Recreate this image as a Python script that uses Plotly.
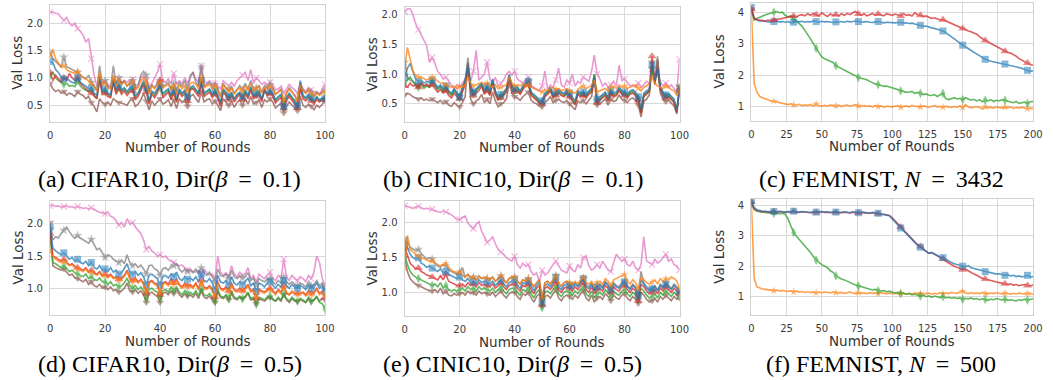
import plotly.graph_objects as go

rounds100 = list(range(0, 101))
rounds200 = list(range(0, 201, 2))

colors = {"blue": "#1f77b4", "orange": "#ff7f0e", "green": "#2ca02c", "red": "#d62728",
          "brown": "#8c564b", "pink": "#e377c2", "gray": "#7f7f7f"}
symbols = {"blue": "square", "orange": "star", "green": "diamond-tall", "red": "triangle-up",
           "brown": "triangle-down", "pink": "x-thin-open", "gray": "star"}

# ---------------- (a) CIFAR10, beta=0.1 ----------------
a_blue = [1.30,1.28,1.15,1.10,1.02,0.98,1.00,0.95,0.92,0.90,
          1.00,0.92,0.88,0.85,0.80,0.82,0.72,0.68,1.05,0.78,
          0.80,0.72,0.70,0.98,0.78,0.88,0.78,0.82,0.75,0.82,
          0.84,0.68,0.72,0.85,0.95,0.82,0.58,0.76,0.72,0.80,
          0.85,0.72,0.76,0.80,0.68,0.78,0.62,0.80,0.72,0.78,
          0.66,0.82,0.86,0.80,0.72,0.95,0.72,0.76,0.80,0.70,
          0.76,0.68,0.55,0.80,0.72,0.66,0.74,0.62,0.70,0.74,
          0.66,0.78,0.68,0.84,0.68,0.72,0.76,0.62,0.74,0.72,
          0.76,0.72,0.60,0.66,0.70,0.48,0.64,0.72,0.66,0.58,
          0.50,0.95,0.68,0.64,0.70,0.64,0.58,0.66,0.60,0.64,0.62]
a_orange = [1.40,1.52,1.35,1.28,1.20,1.22,1.15,1.12,1.10,1.08,
            1.12,1.05,1.00,0.98,0.95,0.90,0.85,0.75,1.10,0.88,
            0.90,0.82,0.80,1.05,0.85,0.95,0.88,0.92,0.85,0.90,
            0.92,0.78,0.82,0.95,1.00,0.90,0.70,0.85,0.80,0.88,
            0.92,0.82,0.85,0.88,0.78,0.86,0.72,0.88,0.80,0.86,
            0.76,0.90,0.92,0.88,0.80,1.02,0.82,0.85,0.88,0.80,
            0.85,0.78,0.65,0.88,0.80,0.76,0.82,0.70,0.78,0.82,
            0.75,0.86,0.76,0.90,0.76,0.80,0.84,0.72,0.82,0.80,
            0.84,0.80,0.70,0.74,0.78,0.58,0.72,0.80,0.74,0.68,
            0.60,0.88,0.76,0.72,0.78,0.72,0.66,0.72,0.68,0.72,0.74]
a_green = [1.05,1.10,1.00,0.95,0.92,0.88,0.90,0.85,0.86,0.84,
           0.95,0.85,0.80,0.78,0.75,0.78,0.68,0.62,1.00,0.74,
           0.76,0.70,0.66,0.95,0.74,0.84,0.74,0.80,0.72,0.78,
           0.80,0.64,0.70,0.82,0.92,0.78,0.55,0.74,0.68,0.76,
           0.82,0.68,0.74,0.78,0.64,0.76,0.58,0.78,0.70,0.76,
           0.62,0.80,0.82,0.78,0.70,0.92,0.70,0.74,0.78,0.68,
           0.74,0.66,0.52,0.78,0.70,0.64,0.72,0.60,0.68,0.72,
           0.64,0.76,0.66,0.82,0.66,0.70,0.74,0.60,0.78,0.70,
           0.74,0.70,0.58,0.64,0.68,0.46,0.62,0.70,0.64,0.56,
           0.48,0.85,0.66,0.62,0.68,0.62,0.56,0.64,0.58,0.62,0.64]
a_red = [1.10,0.95,1.05,0.98,0.92,1.00,0.95,1.08,1.00,0.95,
         1.00,0.90,0.85,0.80,0.75,0.72,0.66,0.62,0.95,0.70,
         0.72,0.66,0.64,0.92,0.70,0.80,0.70,0.76,0.68,0.74,
         0.76,0.60,0.66,0.78,0.88,0.74,0.52,0.70,0.64,0.72,
         0.95,0.64,0.70,0.74,0.60,0.72,0.55,0.74,0.66,0.72,
         0.58,0.78,0.80,0.74,0.66,0.88,0.66,0.70,0.74,0.64,
         0.70,0.62,0.48,0.74,0.66,0.60,0.68,0.56,0.64,0.70,
         0.60,0.72,0.62,0.78,0.62,0.66,0.70,0.56,0.82,0.66,
         0.72,0.66,0.54,0.60,0.64,0.44,0.58,0.66,0.60,0.52,
         0.45,0.80,0.62,0.58,0.64,0.58,0.52,0.60,0.56,0.60,0.60]
a_brown = [0.90,0.80,0.75,0.78,0.72,0.75,0.68,0.72,0.70,0.66,
           0.75,0.70,0.68,0.62,0.66,0.55,0.48,0.38,0.62,0.55,
           0.52,0.56,0.50,0.62,0.58,0.55,0.54,0.52,0.50,0.58,
           0.62,0.48,0.52,0.60,0.72,0.58,0.42,0.58,0.50,0.56,
           0.62,0.52,0.55,0.60,0.48,0.60,0.44,0.62,0.55,0.60,
           0.48,0.66,0.70,0.62,0.55,0.75,0.56,0.60,0.62,0.52,
           0.58,0.50,0.40,0.62,0.56,0.50,0.58,0.46,0.55,0.60,
           0.50,0.62,0.52,0.66,0.52,0.55,0.60,0.46,0.60,0.56,
           0.62,0.56,0.45,0.50,0.54,0.36,0.48,0.56,0.50,0.44,
           0.40,0.66,0.50,0.46,0.52,0.48,0.42,0.50,0.46,0.52,0.58]
a_pink = [2.20,2.20,2.18,2.17,2.10,2.05,2.10,2.00,1.95,2.00,
          1.90,1.85,1.78,1.65,1.72,1.35,1.05,0.85,0.95,0.90,
          0.92,0.88,0.85,1.00,0.88,0.98,0.90,0.95,0.92,0.96,
          0.98,0.85,0.88,1.00,1.05,0.95,0.80,0.90,1.00,1.10,
          1.25,0.95,0.92,0.98,0.90,1.08,0.88,0.95,0.90,1.00,
          0.90,1.00,1.10,0.98,0.92,1.22,0.95,0.90,0.95,0.88,
          0.90,0.85,0.80,0.95,0.90,0.85,0.92,0.85,0.95,1.00,
          1.05,1.10,0.95,1.15,0.90,1.00,0.95,0.88,0.92,0.85,
          0.92,0.88,0.78,0.80,0.85,0.72,0.80,0.88,0.82,0.78,
          0.72,0.90,0.80,0.75,0.82,0.78,0.72,0.75,0.70,0.78,0.88]
a_gray = [1.45,1.35,1.30,1.25,1.20,1.38,1.20,1.18,1.15,1.12,
          1.10,1.05,1.02,0.98,1.05,0.92,0.85,0.78,1.22,0.90,
          0.95,0.85,0.82,1.22,0.88,1.00,0.90,0.95,0.85,0.92,
          0.95,0.80,0.85,1.05,1.12,1.05,0.72,0.88,0.82,0.90,
          0.95,0.84,0.88,0.92,0.80,0.90,0.74,0.92,0.84,0.95,
          0.80,1.05,1.10,0.92,0.85,1.20,0.85,0.88,0.92,0.82,
          0.88,0.80,0.66,0.90,0.82,0.78,0.85,0.72,0.80,0.86,
          0.78,0.90,0.80,0.95,0.80,0.82,0.86,0.74,0.86,0.82,
          0.88,0.82,0.70,0.76,0.80,0.55,0.72,0.82,0.76,0.68,
          0.58,0.92,0.78,0.72,0.80,0.74,0.66,0.74,0.70,0.75,0.78]

# ---------------- (b) CINIC10, beta=0.1 ----------------
b_blue = [0.95,1.10,1.18,1.05,0.92,0.88,0.90,0.85,0.88,0.86,
          0.90,0.85,0.78,0.82,0.75,0.80,0.72,0.68,0.75,0.70,
          0.62,0.78,0.90,1.15,0.82,0.70,0.76,0.80,0.85,0.72,
          0.80,0.70,0.92,0.72,0.62,0.66,0.70,0.76,0.98,0.82,
          0.75,0.78,0.72,0.80,0.85,0.88,0.70,0.66,0.62,0.56,
          0.55,0.68,0.72,0.78,0.66,0.70,0.74,0.70,0.68,0.74,
          0.68,0.60,0.55,0.72,0.68,0.70,0.66,0.72,0.76,0.95,
          0.58,0.62,0.66,0.70,0.60,0.72,0.68,0.70,0.78,0.72,
          0.70,0.66,0.72,0.74,0.70,0.62,0.40,0.68,0.72,0.75,
          1.15,0.90,1.10,0.80,0.70,0.65,0.68,0.62,0.58,0.40,0.70]
b_orange = [1.10,1.45,1.25,1.05,0.98,0.95,0.95,0.92,0.90,0.92,
            0.95,0.92,0.88,0.85,0.85,0.82,0.80,0.78,0.80,0.76,
            0.80,0.78,0.82,0.95,0.85,0.80,0.82,0.84,0.86,0.82,
            0.85,0.80,0.78,0.82,0.76,0.78,0.80,0.82,0.95,0.85,
            0.80,0.82,0.80,0.84,0.80,0.82,0.78,0.76,0.74,0.72,
            0.70,0.74,0.72,0.76,0.78,0.74,0.76,0.72,0.74,0.76,
            0.72,0.70,0.68,0.74,0.78,0.80,0.76,0.78,0.82,0.90,
            0.70,0.72,0.74,0.76,0.72,0.78,0.80,0.76,0.82,0.78,
            0.80,0.76,0.78,0.80,0.82,0.76,0.72,0.78,0.80,0.85,
            0.95,0.85,0.80,0.78,0.76,0.80,0.78,0.74,0.72,0.65,0.72]
b_green = [0.85,0.90,0.95,0.88,0.80,0.78,0.82,0.76,0.80,0.78,
           0.86,0.80,0.74,0.78,0.70,0.76,0.68,0.64,0.72,0.66,
           0.60,0.74,0.86,1.10,0.78,0.66,0.72,0.76,0.82,0.68,
           0.76,0.66,0.88,0.68,0.58,0.62,0.66,0.72,0.95,0.78,
           0.72,0.74,0.68,0.76,0.82,0.84,0.66,0.62,0.58,0.52,
           0.52,0.64,0.68,0.74,0.62,0.66,0.70,0.66,0.64,0.70,
           0.64,0.56,0.50,0.68,0.64,0.66,0.62,0.68,0.72,1.00,
           0.55,0.58,0.62,0.66,0.56,0.68,0.64,0.66,0.74,0.68,
           0.66,0.62,0.68,0.70,0.66,0.58,0.36,0.64,0.68,0.70,
           1.08,0.86,1.05,0.76,0.66,0.62,0.64,0.58,0.54,0.38,0.75]
b_red = [0.80,0.78,0.85,0.80,0.82,0.78,0.85,0.80,0.82,0.78,
         0.82,0.76,0.70,0.74,0.68,0.72,0.64,0.60,0.68,0.62,
         0.58,0.70,0.82,1.10,0.74,0.64,0.68,0.72,0.80,0.66,
         0.72,0.64,0.84,0.66,0.56,0.60,0.64,0.70,0.92,0.76,
         0.70,0.72,0.66,0.74,0.80,0.82,0.64,0.60,0.56,0.50,
         0.50,0.62,0.66,0.72,0.60,0.64,0.68,0.64,0.62,0.68,
         0.62,0.54,0.48,0.66,0.62,0.64,0.60,0.66,0.70,0.95,
         0.52,0.56,0.60,0.64,0.54,0.66,0.62,0.64,0.72,0.66,
         0.64,0.60,0.66,0.68,0.64,0.56,0.34,0.62,0.66,0.72,
         1.30,0.88,1.10,0.74,0.64,0.60,0.62,0.56,0.52,0.36,0.72]
b_brown = [0.65,0.68,0.66,0.62,0.60,0.58,0.60,0.56,0.58,0.55,
           0.58,0.55,0.52,0.56,0.50,0.54,0.48,0.46,0.52,0.48,
           0.45,0.52,0.62,1.20,0.58,0.50,0.55,0.58,0.66,0.52,
           0.58,0.50,0.70,0.55,0.45,0.50,0.52,0.58,0.85,0.68,
           0.62,0.60,0.56,0.62,0.66,0.70,0.56,0.52,0.50,0.46,
           0.45,0.52,0.56,0.62,0.52,0.56,0.58,0.54,0.52,0.56,
           0.50,0.45,0.40,0.55,0.52,0.56,0.50,0.56,0.62,0.95,
           0.48,0.50,0.54,0.58,0.48,0.58,0.54,0.56,0.65,0.58,
           0.56,0.52,0.58,0.60,0.56,0.48,0.28,0.54,0.58,0.65,
           1.20,0.82,1.25,0.68,0.58,0.54,0.56,0.50,0.46,0.33,0.80]
b_pink = [2.05,2.10,2.10,2.00,1.85,1.75,1.65,1.55,1.48,1.20,
          1.28,1.18,1.05,1.00,0.92,0.95,0.88,0.80,0.75,0.82,
          0.78,0.85,0.92,1.00,0.88,1.05,1.40,0.90,0.95,1.00,
          1.20,0.92,0.85,0.95,0.80,0.85,0.90,1.00,1.05,0.98,
          1.05,0.92,0.88,0.85,0.90,0.95,0.80,0.78,0.75,0.72,
          0.80,1.05,0.75,0.82,0.78,0.90,1.10,0.82,0.78,0.90,
          0.85,1.00,0.80,0.88,0.85,0.95,0.92,0.88,1.05,1.32,
          1.00,0.92,0.80,0.85,0.78,0.82,0.88,0.80,1.15,0.90,
          0.92,0.85,0.80,0.82,0.78,0.85,0.78,0.82,0.88,0.85,
          1.00,0.90,1.05,0.88,0.80,0.85,0.78,0.82,0.75,0.70,1.25]
b_gray = [1.20,0.95,0.90,0.88,0.85,0.82,0.86,0.80,0.84,0.80,
          0.88,0.82,0.76,0.80,0.72,0.78,0.70,0.66,0.74,0.68,
          0.62,0.76,0.88,1.28,0.80,0.68,0.74,0.78,0.84,0.70,
          0.78,0.68,0.90,0.70,0.60,0.64,0.68,0.74,1.00,0.82,
          0.76,0.78,0.70,0.78,0.86,0.88,0.68,0.64,0.60,0.54,
          0.54,0.66,0.70,0.76,0.64,0.68,0.72,0.68,0.66,0.72,
          0.66,0.58,0.52,0.70,0.66,0.68,0.64,0.70,0.74,1.00,
          0.56,0.60,0.64,0.68,0.58,0.70,0.66,0.68,0.76,0.70,
          0.68,0.64,0.70,0.72,0.68,0.60,0.38,0.66,0.70,0.72,
          1.10,0.88,1.30,0.78,0.68,0.64,0.66,0.60,0.56,0.40,0.78]

# ---------------- (c) FEMNIST, N=3432 (every 2 rounds) ----------------
c_blue = [4.15,3.80,3.75,3.72,3.72,3.70,3.70,3.68,3.70,3.71,
          3.69,3.70,3.68,3.70,3.66,3.68,3.70,3.69,3.71,3.68,
          3.70,3.69,3.72,3.70,3.68,3.71,3.69,3.70,3.68,3.67,
          3.69,3.68,3.70,3.68,3.71,3.69,3.70,3.72,3.70,3.68,
          3.69,3.70,3.68,3.67,3.69,3.70,3.68,3.66,3.68,3.67,
          3.68,3.66,3.67,3.68,3.65,3.66,3.64,3.65,3.62,3.60,
          3.58,3.55,3.56,3.52,3.50,3.48,3.46,3.42,3.40,3.35,
          3.28,3.22,3.15,3.08,3.02,2.95,2.90,2.85,2.78,2.72,
          2.68,2.62,2.55,2.50,2.47,2.44,2.42,2.40,2.38,2.36,
          2.35,2.33,2.32,2.30,2.28,2.26,2.22,2.18,2.15,2.12,2.14]
c_orange = [4.10,1.75,1.45,1.32,1.28,1.24,1.22,1.18,1.17,1.15,
            1.12,1.10,1.08,1.06,1.09,1.05,1.04,1.07,1.03,1.05,
            1.04,1.06,1.02,1.08,1.03,1.01,1.04,1.02,1.05,1.03,
            1.02,1.04,1.00,1.03,1.05,1.01,1.03,1.06,1.02,1.00,
            1.03,1.01,1.02,0.99,1.04,1.00,1.02,0.98,1.01,1.00,
            0.99,1.01,1.03,0.98,1.00,1.02,0.99,1.04,1.01,1.00,
            0.99,1.02,1.00,0.98,1.01,1.03,0.99,1.00,0.98,1.01,
            0.99,0.97,1.00,0.98,1.02,0.97,1.06,0.99,0.96,0.98,
            1.00,0.97,0.93,0.99,0.96,0.98,0.95,0.99,0.97,0.95,
            0.98,0.96,0.99,0.94,0.97,0.95,0.98,0.96,0.93,0.95,0.94]
c_green = [4.05,3.75,3.80,3.85,3.88,3.92,3.95,3.98,4.00,4.02,
           3.98,4.00,3.90,3.85,3.88,3.78,3.72,3.65,3.55,3.42,
           3.30,3.15,3.00,2.85,2.70,2.58,2.52,2.48,2.42,2.40,
           2.30,2.25,2.20,2.15,2.10,2.05,2.02,1.98,1.92,1.90,
           1.88,1.85,1.80,1.75,1.72,1.70,1.66,1.64,1.65,1.62,
           1.58,1.55,1.52,1.50,1.48,1.45,1.46,1.48,1.42,1.45,
           1.42,1.38,1.40,1.36,1.35,1.38,1.32,1.36,1.42,1.25,
           1.22,1.25,1.28,1.24,1.26,1.22,1.28,1.24,1.20,1.23,
           1.18,1.22,1.15,1.20,1.18,1.22,1.16,1.20,1.18,1.22,
           1.20,1.18,1.15,1.12,1.16,1.10,1.12,1.14,1.10,1.15,1.16]
c_red = [4.10,3.82,3.76,3.74,3.73,3.72,3.75,3.72,3.74,3.76,
         3.78,3.80,3.82,3.84,3.86,3.88,3.85,3.90,3.92,3.88,
         3.95,3.90,3.96,3.92,3.88,3.98,3.92,3.86,3.94,3.90,
         3.92,3.88,3.95,3.90,3.96,3.92,3.98,4.02,3.94,3.90,
         3.95,3.88,3.92,3.96,3.90,3.94,3.92,3.88,3.95,3.92,
         3.90,3.94,3.92,3.88,3.96,3.90,3.92,3.88,3.98,3.92,
         3.90,3.86,3.88,3.84,3.80,3.82,3.78,3.75,3.76,3.72,
         3.68,3.62,3.60,3.55,3.52,3.48,3.45,3.40,3.38,3.33,
         3.30,3.22,3.15,3.10,3.05,3.00,2.95,2.90,2.85,2.80,
         2.76,2.72,2.70,2.66,2.60,2.52,2.48,2.42,2.38,2.33,2.32]

# ---------------- (d) CIFAR10, beta=0.5 ----------------
d_blue = [1.95,1.62,1.58,1.55,1.52,1.55,1.50,1.45,1.48,1.42,
          1.45,1.40,1.38,1.42,1.35,1.40,1.32,1.30,1.35,1.28,
          1.30,1.26,1.32,1.25,1.28,1.22,1.24,1.30,1.38,1.25,
          1.22,1.26,1.20,1.24,1.18,1.05,1.20,1.22,1.18,1.15,
          1.05,1.18,1.20,1.16,1.22,1.18,1.25,1.15,1.12,1.18,
          1.14,1.16,1.12,1.18,1.10,1.22,1.12,1.10,1.15,1.08,
          0.98,1.20,1.10,1.08,1.12,1.05,1.18,1.08,1.05,1.10,
          1.06,1.10,1.16,1.04,1.08,0.95,1.08,1.06,1.02,1.08,
          1.10,1.04,1.00,1.06,1.02,1.12,1.04,1.00,1.06,1.02,
          1.00,1.04,1.02,0.98,1.05,1.00,1.02,1.08,1.00,1.04,0.95]
d_orange = [1.58,1.50,1.45,1.42,1.40,1.42,1.38,1.35,1.36,1.32,
            1.30,1.28,1.26,1.30,1.24,1.26,1.22,1.20,1.24,1.18,
            1.20,1.16,1.20,1.15,1.16,1.12,1.14,1.18,1.26,1.14,
            1.10,1.14,1.08,1.12,1.06,0.95,1.08,1.10,1.06,1.04,
            0.92,1.06,1.08,1.04,1.10,1.06,1.12,1.04,1.00,1.06,
            1.02,1.04,1.00,1.06,0.98,1.10,1.00,0.98,1.02,0.96,
            0.88,1.08,0.98,0.96,1.00,0.94,1.06,0.96,0.94,0.98,
            0.95,0.98,1.04,0.94,0.96,0.85,0.96,0.94,0.92,0.96,
            0.98,0.94,0.90,0.96,0.92,1.02,0.94,0.90,0.96,0.92,
            0.90,0.94,0.92,0.88,0.95,0.90,0.92,0.98,0.90,0.94,0.88]
d_green = [1.80,1.40,1.38,1.35,1.32,1.35,1.30,1.26,1.28,1.24,
           1.22,1.20,1.18,1.22,1.15,1.18,1.14,1.12,1.16,1.10,
           1.10,1.06,1.10,1.04,1.06,1.02,1.04,1.08,1.16,1.04,
           1.00,1.04,0.98,1.02,0.96,0.84,0.98,1.00,0.96,0.94,
           0.84,0.96,0.98,0.94,1.02,0.96,1.02,0.94,0.90,0.96,
           0.92,0.94,0.90,0.96,0.88,1.00,0.90,0.88,0.92,0.86,
           0.80,0.98,0.88,0.86,0.90,0.84,0.96,0.86,0.84,0.88,
           0.84,0.88,0.94,0.84,0.86,0.75,0.86,0.84,0.82,0.86,
           0.88,0.84,0.80,0.86,0.82,0.92,0.84,0.80,0.86,0.82,
           0.80,0.84,0.82,0.78,0.86,0.80,0.82,0.88,0.78,0.76,0.68]
d_red = [1.85,1.50,1.48,1.45,1.42,1.45,1.40,1.36,1.38,1.34,
         1.32,1.30,1.28,1.32,1.25,1.28,1.24,1.22,1.26,1.20,
         1.22,1.18,1.22,1.16,1.18,1.14,1.16,1.20,1.28,1.16,
         1.12,1.16,1.10,1.14,1.08,0.92,1.10,1.12,1.08,1.06,
         0.90,1.08,1.10,1.06,1.15,1.08,1.14,1.06,1.02,1.08,
         1.04,1.06,1.02,1.08,1.00,1.12,1.02,1.00,1.04,0.98,
         0.86,1.10,1.00,0.98,1.02,0.96,1.08,0.98,0.96,1.00,
         0.96,1.00,1.06,0.96,0.98,0.84,0.98,0.96,0.94,0.98,
         1.00,0.96,0.92,0.98,0.94,1.04,0.92,0.90,0.94,0.92,
         0.92,0.92,0.94,0.90,0.96,0.92,0.94,1.00,0.92,0.95,0.86]
d_brown = [2.02,1.35,1.32,1.30,1.28,1.30,1.25,1.20,1.22,1.16,
           1.15,1.12,1.10,1.14,1.06,1.10,1.04,1.02,1.06,1.00,
           1.02,0.98,1.02,0.96,0.98,0.94,0.96,1.00,1.08,0.96,
           0.94,0.98,0.92,0.96,0.90,0.78,0.92,0.94,0.90,0.88,
           0.78,0.92,0.94,0.90,0.96,0.92,0.98,0.90,0.86,0.92,
           0.88,0.90,0.86,0.92,0.84,0.96,0.86,0.84,0.88,0.82,
           0.78,0.94,0.86,0.84,0.88,0.82,0.92,0.84,0.82,0.86,
           0.84,0.86,0.92,0.82,0.84,0.76,0.84,0.82,0.80,0.84,
           0.86,0.82,0.80,0.84,0.80,0.90,0.82,0.78,0.84,0.80,
           0.80,0.82,0.80,0.78,0.84,0.80,0.82,0.86,0.80,0.84,0.82]
d_pink = [2.28,2.29,2.27,2.28,2.26,2.27,2.28,2.26,2.27,2.25,
          2.27,2.26,2.24,2.25,2.23,2.25,2.22,2.20,2.18,2.17,
          2.16,2.18,2.12,2.10,2.05,1.98,2.02,1.95,2.08,2.00,
          2.02,1.95,1.90,1.85,1.75,1.60,1.65,1.58,1.55,1.50,
          1.52,1.48,1.50,1.45,1.42,1.40,1.38,1.35,1.36,1.32,
          1.28,1.30,1.26,1.25,1.28,1.22,1.30,1.24,1.20,1.22,
          1.15,1.50,1.25,1.20,1.24,1.18,1.35,1.22,1.18,1.25,
          1.20,1.22,1.32,1.15,1.20,1.10,1.22,1.18,1.15,1.20,
          1.25,1.15,1.12,1.20,1.15,1.45,1.18,1.12,1.20,1.15,
          1.12,1.18,1.15,1.10,1.20,1.15,1.25,1.50,1.40,1.15,1.05]
d_gray = [1.92,1.75,1.80,1.78,1.85,1.90,1.95,1.88,1.82,1.78,
          1.82,1.78,1.75,1.72,1.70,1.76,1.68,1.60,1.62,1.55,
          1.48,1.52,1.50,1.45,1.42,1.40,1.44,1.38,1.52,1.40,
          1.35,1.38,1.32,1.36,1.30,1.22,1.35,1.36,1.30,1.28,
          1.20,1.30,1.32,1.28,1.34,1.35,1.38,1.30,1.25,1.30,
          1.26,1.28,1.24,1.30,1.22,1.32,1.24,1.20,1.25,1.18,
          1.10,1.30,1.20,1.18,1.22,1.15,1.28,1.18,1.15,1.20,
          1.16,1.18,1.24,1.12,1.16,1.05,1.15,1.12,1.10,1.14,
          1.15,1.10,1.06,1.12,1.08,1.18,1.10,1.06,1.10,1.06,
          1.04,1.08,1.06,1.02,1.10,1.04,1.06,1.12,1.04,1.08,1.00]

# ---------------- (e) CINIC10, beta=0.5 ----------------
e_blue = [1.75,1.65,1.55,1.50,1.48,1.50,1.42,1.40,1.36,1.38,
          1.35,1.32,1.30,1.34,1.28,1.30,1.26,1.24,1.22,1.20,
          1.22,1.18,1.16,1.20,1.14,1.16,1.12,1.18,1.14,1.16,
          1.15,1.12,1.16,1.10,1.14,1.18,1.12,1.08,1.14,1.16,
          1.18,1.10,1.06,1.14,1.12,1.16,1.08,1.02,1.10,1.14,
          0.86,1.10,1.12,1.08,1.14,1.22,1.08,1.04,1.10,1.12,
          1.10,1.06,1.12,1.08,1.14,1.20,1.08,1.05,1.12,1.02,
          1.08,1.10,1.06,1.14,1.10,1.04,1.12,1.08,1.06,1.12,
          1.15,1.08,1.04,1.10,1.06,0.95,1.18,1.12,1.06,1.02,
          1.05,1.08,1.02,1.10,1.06,1.12,1.08,1.04,1.10,1.06,1.02]
e_orange = [1.35,1.82,1.62,1.58,1.55,1.52,1.50,1.48,1.46,1.45,
            1.45,1.42,1.40,1.38,1.40,1.42,1.36,1.32,1.30,1.28,
            1.30,1.25,1.22,1.26,1.20,1.22,1.18,1.22,1.20,1.22,
            1.20,1.18,1.22,1.16,1.20,1.24,1.18,1.14,1.20,1.22,
            1.22,1.16,1.12,1.18,1.16,1.20,1.14,1.08,1.14,1.18,
            0.92,1.14,1.16,1.12,1.18,1.24,1.12,1.10,1.14,1.16,
            1.14,1.12,1.16,1.12,1.18,1.22,1.14,1.12,1.16,1.08,
            1.14,1.16,1.12,1.20,1.16,1.10,1.18,1.20,1.22,1.24,
            1.26,1.16,1.12,1.18,1.14,1.05,1.22,1.18,1.14,1.12,
            1.15,1.18,1.12,1.20,1.16,1.20,1.18,1.22,1.20,1.16,1.06]
e_green = [1.55,1.40,1.30,1.25,1.22,1.20,1.18,1.16,1.14,1.12,
           1.10,1.12,1.08,1.14,1.06,1.10,1.04,1.02,1.04,1.02,
           1.04,1.06,1.02,1.08,1.04,1.06,1.02,1.08,1.04,1.06,
           1.04,1.02,1.06,1.00,1.04,1.08,1.02,0.98,1.04,1.06,
           1.06,1.00,0.96,1.04,1.02,1.06,0.98,0.92,1.00,1.04,
           0.78,1.00,1.02,0.98,1.04,1.10,0.98,0.94,1.00,1.02,
           1.00,0.96,1.02,0.98,1.04,1.08,0.98,0.94,1.02,0.92,
           0.98,1.00,0.96,1.04,1.00,0.94,1.02,0.98,0.96,1.02,
           1.04,0.98,0.94,1.00,0.96,0.90,1.06,1.02,0.96,0.92,
           0.94,0.98,0.92,1.00,0.96,1.02,0.98,0.94,1.00,0.96,0.94]
e_red = [1.65,1.52,1.42,1.38,1.34,1.35,1.30,1.28,1.25,1.24,
         1.22,1.20,1.18,1.24,1.18,1.26,1.16,1.14,1.12,1.10,
         1.10,1.12,1.08,1.14,1.10,1.12,1.08,1.14,1.10,1.12,
         1.10,1.08,1.12,1.06,1.10,1.14,1.08,1.04,1.10,1.12,
         1.12,1.06,1.02,1.10,1.08,1.12,1.04,0.98,1.06,1.10,
         0.82,1.06,1.08,1.04,1.10,1.16,1.04,1.00,1.06,1.08,
         1.06,1.02,1.08,1.04,1.10,1.14,1.04,1.00,1.08,0.98,
         1.04,1.06,1.02,1.10,1.06,1.00,1.08,1.04,1.02,1.08,
         1.10,1.04,1.00,1.06,1.02,0.88,1.12,1.08,1.02,0.98,
         1.00,1.04,0.98,1.06,1.02,1.08,1.04,1.00,1.06,1.02,0.98]
e_brown = [1.50,1.30,1.20,1.15,1.12,1.10,1.08,1.06,1.05,1.02,
           1.02,1.04,1.00,1.06,0.98,1.02,0.96,0.95,0.98,0.96,
           0.98,1.00,0.96,1.02,0.98,1.00,0.96,1.02,0.98,1.00,
           0.98,0.96,1.00,0.94,0.98,1.02,0.96,0.92,0.98,1.00,
           1.00,0.94,0.90,0.98,0.96,1.00,0.92,0.86,0.94,0.98,
           0.80,0.94,0.96,0.92,0.98,1.04,0.92,0.88,0.94,0.96,
           0.94,0.90,0.96,0.92,0.98,1.02,0.92,0.88,0.96,0.86,
           0.92,0.94,0.90,0.98,0.94,0.88,0.96,0.92,0.90,0.96,
           0.98,0.92,0.88,0.94,0.90,0.84,1.00,0.96,0.90,0.86,
           0.88,0.92,0.86,0.94,0.90,0.96,0.92,0.88,0.94,0.90,0.92]
e_pink = [2.25,2.24,2.22,2.21,2.23,2.24,2.22,2.20,2.21,2.20,
          2.20,2.18,2.16,2.15,2.17,2.16,2.14,2.12,2.08,2.05,
          2.05,2.08,2.10,2.00,1.95,1.92,1.98,2.02,1.88,1.80,
          1.72,1.75,1.80,1.70,1.62,1.58,1.55,1.50,1.48,1.45,
          1.52,1.40,1.35,1.42,1.38,1.40,1.30,1.25,1.28,1.15,
          1.32,1.25,1.28,1.35,1.40,1.45,1.38,1.32,1.30,1.28,
          1.38,1.32,1.30,1.40,1.35,1.50,1.52,1.38,1.32,1.35,
          1.40,1.35,1.45,1.38,1.32,1.30,1.42,1.55,1.50,1.45,
          1.48,1.40,1.38,1.45,1.35,1.32,1.40,1.80,1.45,1.42,
          1.40,1.48,1.42,1.45,1.50,1.55,1.45,1.48,1.40,1.38,1.32]
e_gray = [1.60,1.72,1.65,1.62,1.60,1.62,1.56,1.52,1.48,1.50,
          1.48,1.42,1.38,1.36,1.40,1.38,1.32,1.30,1.28,1.26,
          1.28,1.36,1.22,1.26,1.20,1.22,1.18,1.24,1.20,1.22,
          1.20,1.18,1.22,1.16,1.20,1.24,1.18,1.14,1.20,1.22,
          1.22,1.16,1.12,1.18,1.16,1.20,1.14,1.08,1.14,1.18,
          0.90,1.14,1.16,1.12,1.18,1.24,1.12,1.08,1.14,1.16,
          1.12,1.10,1.14,1.10,1.16,1.20,1.10,1.08,1.14,1.04,
          1.10,1.12,1.08,1.16,1.12,1.06,1.14,1.10,1.08,1.14,
          1.16,1.10,1.06,1.12,1.08,0.98,1.30,1.14,1.08,1.04,
          1.06,1.10,1.04,1.12,1.08,1.14,1.10,1.06,1.12,1.08,1.00]

# ---------------- (f) FEMNIST, N=500 (every 2 rounds) ----------------
f_blue = [4.15,3.92,3.85,3.82,3.80,3.80,3.78,3.80,3.79,3.78,
          3.80,3.78,3.77,3.79,3.78,3.80,3.78,3.77,3.79,3.78,
          3.78,3.76,3.78,3.77,3.78,3.79,3.77,3.78,3.76,3.78,
          3.77,3.78,3.76,3.78,3.77,3.75,3.78,3.76,3.75,3.77,
          3.76,3.75,3.74,3.76,3.74,3.73,3.72,3.70,3.68,3.65,
          3.55,3.45,3.35,3.25,3.15,3.05,2.95,2.85,2.75,2.68,
          2.62,2.55,2.48,2.42,2.45,2.40,2.35,2.30,2.28,2.22,
          2.16,2.12,2.08,2.05,2.02,2.00,1.98,2.02,1.95,1.92,
          1.90,1.88,1.85,1.82,1.80,1.78,1.76,1.74,1.75,1.72,
          1.70,1.72,1.68,1.70,1.66,1.68,1.65,1.67,1.70,1.64,1.66]
f_orange = [4.10,1.60,1.32,1.28,1.25,1.24,1.22,1.22,1.20,1.21,
            1.19,1.20,1.18,1.17,1.19,1.16,1.18,1.15,1.17,1.14,
            1.16,1.14,1.15,1.13,1.15,1.12,1.16,1.14,1.12,1.15,
            1.13,1.12,1.14,1.11,1.13,1.15,1.12,1.10,1.13,1.11,
            1.12,1.10,1.13,1.11,1.12,1.10,1.14,1.11,1.09,1.12,
            1.10,1.11,1.09,1.12,1.10,1.08,1.11,1.09,1.12,1.10,
            1.11,1.09,1.10,1.12,1.08,1.11,1.09,1.13,1.10,1.12,
            1.10,1.14,1.12,1.11,1.15,1.18,1.12,1.10,1.13,1.11,
            1.12,1.10,1.14,1.11,1.09,1.12,1.10,1.13,1.11,1.09,
            1.12,1.10,1.08,1.11,1.09,1.12,1.10,1.08,1.11,1.09,1.08]
f_green = [4.05,3.85,3.80,3.78,3.76,3.75,3.74,3.75,3.73,3.74,
           3.72,3.73,3.70,3.55,3.35,3.10,2.98,2.88,2.78,2.68,
           2.58,2.45,2.32,2.20,2.12,2.05,2.00,1.95,1.85,1.80,
           1.68,1.62,1.58,1.55,1.50,1.45,1.42,1.38,1.35,1.32,
           1.30,1.28,1.25,1.22,1.24,1.20,1.18,1.20,1.16,1.18,
           1.15,1.12,1.14,1.10,1.12,1.08,1.10,1.06,1.08,1.04,
           1.02,1.05,1.00,1.03,0.98,1.02,1.00,0.97,1.00,0.96,
           0.98,0.95,0.97,0.94,0.96,0.92,0.95,0.93,0.96,0.92,
           0.94,0.90,0.93,0.91,0.88,0.92,0.90,0.94,0.91,0.89,
           0.92,0.88,0.90,0.87,0.86,0.90,0.88,0.92,0.89,0.91,0.93]
f_red = [4.10,3.88,3.82,3.80,3.78,3.79,3.77,3.79,3.78,3.77,
         3.79,3.77,3.76,3.78,3.77,3.79,3.77,3.76,3.78,3.77,
         3.77,3.75,3.77,3.76,3.77,3.78,3.76,3.77,3.75,3.77,
         3.76,3.77,3.75,3.77,3.76,3.74,3.77,3.75,3.74,3.76,
         3.75,3.74,3.73,3.75,3.73,3.72,3.71,3.70,3.69,3.66,
         3.58,3.48,3.38,3.28,3.18,3.08,2.98,2.88,2.78,2.70,
         2.64,2.56,2.48,2.42,2.44,2.40,2.34,2.28,2.24,2.16,
         2.10,2.05,2.00,1.96,1.92,1.88,1.90,1.84,1.80,1.74,
         1.70,1.65,1.60,1.58,1.55,1.52,1.50,1.48,1.46,1.44,
         1.42,1.40,1.42,1.38,1.40,1.36,1.38,1.40,1.37,1.35,1.38]

SP = " \u2009"
captions = ["(a) CIFAR10, Dir(<i>β</i>" + SP + "=" + SP + "0.1)",
            "(b) CINIC10, Dir(<i>β</i>" + SP + "=" + SP + "0.1)",
            "(c) FEMNIST, <i>N</i>" + SP + "=" + SP + "3432",
            "(d) CIFAR10, Dir(<i>β</i>" + SP + "=" + SP + "0.5)",
            "(e) CINIC10, Dir(<i>β</i>" + SP + "=" + SP + "0.5)",
            "(f) FEMNIST, <i>N</i>" + SP + "=" + SP + "500"]

panels = [
    dict(x=rounds100, every=5, yr=[0.2, 2.33], yt=[0.5, 1.0, 1.5, 2.0], fmt=".1f",
         data={"pink": a_pink, "gray": a_gray, "brown": a_brown, "green": a_green,
               "red": a_red, "blue": a_blue, "orange": a_orange}),
    dict(x=rounds100, every=5, yr=[0.2, 2.13], yt=[0.5, 1.0, 1.5, 2.0], fmt=".1f",
         data={"pink": b_pink, "gray": b_gray, "brown": b_brown, "green": b_green,
               "red": b_red, "blue": b_blue, "orange": b_orange}),
    dict(x=rounds200, every=15, yr=[0.55, 4.3], yt=[1, 2, 3, 4], fmt="d",
         data={"orange": c_orange, "green": c_green, "blue": c_blue, "red": c_red}),
    dict(x=rounds100, every=5, yr=[0.58, 2.36], yt=[1.0, 1.5, 2.0], fmt=".1f",
         data={"pink": d_pink, "gray": d_gray, "brown": d_brown, "green": d_green,
               "red": d_red, "blue": d_blue, "orange": d_orange}),
    dict(x=rounds100, every=5, yr=[0.66, 2.32], yt=[1.0, 1.5, 2.0], fmt=".1f",
         data={"pink": e_pink, "gray": e_gray, "brown": e_brown, "green": e_green,
               "red": e_red, "blue": e_blue, "orange": e_orange}),
    dict(x=rounds200, every=15, yr=[0.4, 4.2], yt=[1, 2, 3, 4], fmt="d",
         data={"orange": f_orange, "green": f_green, "red": f_red, "blue": f_blue}),
]

W, H = 1053, 380
# plot-area pixel boxes (left, right, top, bottom)
boxes = [(47.7, 326, 5, 121.7), (406.7, 685, 7, 121.7), (757.7, 1043, 2.7, 120.7),
         (47.7, 326, 200.7, 315.3), (406.7, 685, 200.7, 316), (757.7, 1043, 199, 315)]
cap_x = [169, 516, 889, 169, 516, 889]
cap_y = [179, 179, 179, 364, 364, 364]

msize = {"blue": 7, "orange": 6, "green": 7, "red": 8, "brown": 7, "pink": 6, "gray": 7}

fig = go.Figure()
layout = dict(width=W, height=H, margin=dict(l=0, r=0, t=0, b=0),
              paper_bgcolor="white", plot_bgcolor="white", showlegend=False,
              font=dict(family="DejaVu Sans", color="#333333"))
annotations = []

for i, (p, box) in enumerate(zip(panels, boxes)):
    k = "" if i == 0 else str(i + 1)
    xa, ya = "x" + k, "y" + k
    l, r, t, b = box
    for name, vals in p["data"].items():
        xs = p["x"]
        if p["every"] == 5:
            sizes = [msize[name] if (xv % 5 == 0) else 0 for xv in xs]
        else:
            sizes = [msize[name] if (xv % 15 in (0, 1)) else 0 for xv in xs]
        sym = symbols[name]
        fig.add_trace(go.Scatter(
            x=xs, y=vals, xaxis=xa, yaxis=ya, mode="lines+markers",
            line=dict(color=colors[name], width=1.6),
            marker=dict(symbol=sym, size=sizes, color=colors[name],
                        line=dict(width=1.2 if "x-thin" in sym else 0, color=colors[name])),
            opacity=0.75, hoverinfo="skip"))
    xmax = p["x"][-1]
    xt = list(range(0, xmax + 1, 20 if xmax == 100 else 25))
    layout["xaxis" + k] = dict(domain=[l / W, r / W], anchor=ya, range=[0, xmax],
                               tickvals=xt, showgrid=True, gridcolor="#d9d9d9", gridwidth=1,
                               showline=True, linecolor="#d0d0d0", linewidth=1.3, mirror=True,
                               zeroline=False, ticks="", tickfont=dict(size=10, color="#3a3a3a"),
                               ticklabelstandoff=4)
    layout["yaxis" + k] = dict(domain=[1 - b / H, 1 - t / H], anchor=xa, range=p["yr"],
                               tickvals=p["yt"], tickformat=p["fmt"], showgrid=True,
                               gridcolor="#d9d9d9", gridwidth=1, showline=True,
                               linecolor="#d0d0d0", linewidth=1.3, mirror=True, zeroline=False,
                               ticks="", tickfont=dict(size=10, color="#3a3a3a"),
                               ticklabelstandoff=4)
    annotations.append(dict(text="Number of Rounds", x=(l + r) / 2 / W, y=1 - (b + 25.5) / H,
                            xref="paper", yref="paper", showarrow=False, xanchor="center",
                            yanchor="middle", font=dict(size=13.5, color="#333333",
                                                        family="DejaVu Sans")))
    annotations.append(dict(text="Val Loss", x=(l - 33) / W, y=1 - (t + b) / 2 / H,
                            xref="paper", yref="paper", showarrow=False, textangle=-90,
                            xanchor="center", yanchor="middle",
                            font=dict(size=13.5, color="#333333", family="DejaVu Sans")))
    annotations.append(dict(text=captions[i], x=cap_x[i] / W, y=1 - cap_y[i] / H,
                            xref="paper", yref="paper", showarrow=False, xanchor="center",
                            yanchor="middle", font=dict(size=24, color="black",
                                                        family="Liberation Serif")))

layout["annotations"] = annotations
fig.update_layout(**layout)
fig.write_html("out.html", config={"displayModeBar": False},
               post_script="document.body.style.margin='0px';document.body.style.padding='0px';")
